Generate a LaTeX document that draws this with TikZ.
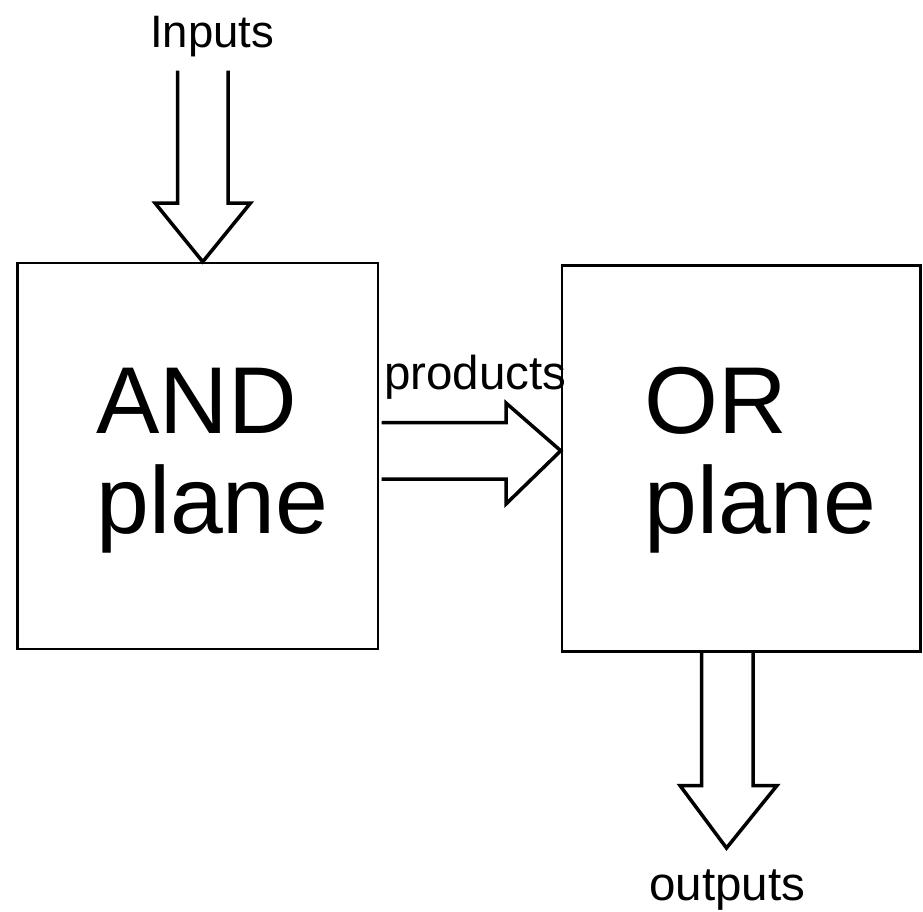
\documentclass[tikz,border=0pt]{standalone}
\usepackage{fontspec}
\setmainfont{Liberation Sans}
\begin{document}
\begin{tikzpicture}[x=1pt,y=-1pt,
  plane/.style={draw=black,line width=2.5pt,inner sep=0pt},
  blockarrow/.style={draw=black,line width=3.5pt,line join=miter,fill=none},
  bigtext/.style={font=\fontsize{95}{100}\selectfont,align=left,inner sep=0pt,anchor=north west},
  smalltext/.style={font=\fontsize{45.5}{50}\selectfont,inner sep=0pt,anchor=base west},
  smalltextw/.style={font=\fontsize{47.5}{52}\selectfont,inner sep=0pt,anchor=base west}]
\useasboundingbox (0,0) rectangle (923,911);
% boxes
\node[plane,minimum width=360.5pt,minimum height=386pt] (and) at (197.75,456) {};
\node[plane,minimum width=358.5pt,minimum height=386pt] (or) at (741.25,458.5) {};
% box labels
\node[bigtext] (andlbl) at (96,368) {AND\\plane};
\node[bigtext] (orlbl) at (644,367) {OR\\plane};
% input arrow
\coordinate (intip) at (and.north -| 202.75,0);
\draw[blockarrow] (177.5,70.5) -- (177.5,203) -- (155,203) -- (intip) -- (250.5,203) -- (228,203) -- (228,70.5);
\node[smalltext] (inputs) at (150,47) {Inputs};
% products arrow
\coordinate (prtip) at (or.west |- 0,450.75);
\draw[blockarrow] (381.5,422.5) -- (506,422.5) -- (506,403) -- (prtip) -- (506,504) -- (506,479) -- (381.5,479);
\node[smalltextw] (products) at (384,389) {products};
% output arrow
\coordinate (outl) at (or.south -| 701.5,0);
\coordinate (outr) at (or.south -| 753,0);
\draw[blockarrow] (outl) -- (701.5,785.5) -- (680,785.5) -- (726.5,848) -- (777,785.5) -- (753,785.5) -- (outr);
\node[smalltextw] (outputs) at (649,900) {outputs};
\end{tikzpicture}
\end{document}
